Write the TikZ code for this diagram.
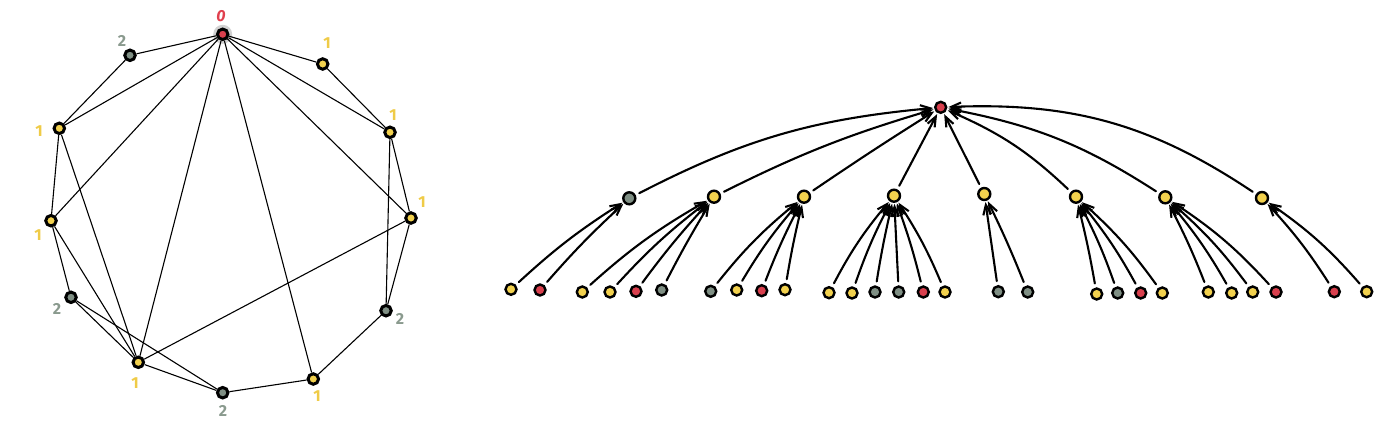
\documentclass[tikz,border=0pt]{standalone}
\usepackage{fontspec}
\setsansfont{Fira Sans}
\usetikzlibrary{arrows.meta}
\definecolor{nred}{HTML}{D9404E}
\definecolor{nyel}{HTML}{F2D14E}
\definecolor{ngry}{HTML}{7F8F84}
\definecolor{lred}{HTML}{E0404E}
\definecolor{lyel}{HTML}{EFCB47}
\definecolor{lgry}{HTML}{8A9A8E}
\begin{document}
\begin{tikzpicture}[x=1pt,y=1pt,
  gn/.style={circle, draw=black, line width=3pt, minimum size=10.5pt, inner sep=0pt},
  gedge/.style={line width=1.1pt},
  lbl/.style={font=\sffamily\bfseries\fontsize{16}{16}\selectfont, inner sep=0pt},
  tn/.style={circle, draw=black, line width=2.4pt, minimum size=11pt, inner sep=0pt},
  mn/.style={tn, minimum size=12pt},
  tedge/.style={line width=2.1pt, line cap=round, -{Straight Barb[length=10pt,width=8pt]}, shorten <=4pt, shorten >=1pt}
]
\useasboundingbox (0,0) rectangle (1400,-437);
% ---------- left graph ----------
\node[circle, fill=gray!35, minimum size=19pt, inner sep=0pt] (halo) at (222.7,-34.3) {};
\node[gn, fill=nred] (r0) at (222.7,-34.3) {};
\node[gn, fill=ngry] (A) at (130,-55.3) {};
\node[gn, fill=nyel] (B) at (322.7,-64) {};
\node[gn, fill=nyel] (C) at (59.3,-128.3) {};
\node[gn, fill=nyel] (D) at (390,-132.3) {};
\node[gn, fill=nyel] (E) at (51,-220.7) {};
\node[gn, fill=nyel] (F) at (411,-218) {};
\node[gn, fill=ngry] (J) at (71,-297.3) {};
\node[gn, fill=ngry] (I) at (386,-310.7) {};
\node[gn, fill=nyel] (G) at (138.3,-362.3) {};
\node[gn, fill=nyel] (H) at (313.3,-379) {};
\node[gn, fill=ngry] (K) at (222.7,-392.7) {};

\node[lbl, text=lred] (t0) at (221,-16) {\itshape 0};
\node[lbl, text=lgry] (tA) at (122,-41) {2};
\node[lbl, text=lyel] (tB) at (327,-43) {1};
\node[lbl, text=lyel] (tC) at (39,-131) {1};
\node[lbl, text=lyel] (tD) at (393,-115) {1};
\node[lbl, text=lyel] (tF) at (422,-202) {1};
\node[lbl, text=lyel] (tE) at (38,-235) {1};
\node[lbl, text=lgry] (tJ) at (57,-309) {2};
\node[lbl, text=lyel] (tG) at (135,-383) {1};
\node[lbl, text=lgry] (tK) at (223,-411) {2};
\node[lbl, text=lyel] (tH) at (317,-396) {1};
\node[lbl, text=lgry] (tI) at (400,-319) {2};

\foreach \a/\b in {r0/A, r0/B, r0/C, r0/D, r0/E, r0/F, r0/G, r0/H,
  A/C, B/D, C/E, C/G, D/F, D/I, E/J, E/G, F/I, F/G, J/G, J/K, G/K, K/H, H/I}
  \draw[gedge] (\a) -- (\b);

% ---------- tree ----------
\node[tn, fill=nred] (r) at (940.7,-107.3) {};
\node[mn, fill=ngry] (m1) at (629.3,-198.3) {};
\node[mn, fill=nyel] (m2) at (714,-196.7) {};
\node[mn, fill=nyel] (m3) at (804,-196.7) {};
\node[mn, fill=nyel] (m4) at (894,-195.7) {};
\node[mn, fill=nyel] (m5) at (984.3,-194) {};
\node[mn, fill=nyel] (m6) at (1076,-196.7) {};
\node[mn, fill=nyel] (m7) at (1165.3,-197.3) {};
\node[mn, fill=nyel] (m8) at (1262,-198) {};

\foreach \m/\b in {m1/11, m2/5, m3/1, m4/0, m5/0, m6/-10, m7/-11, m8/-18}
  \draw[tedge] (\m) to[bend left=\b] (r);

\foreach \n/\x/\y/\c/\p/\b in {
  a1/511/289.3/nyel/m1/5, a2/540/290/nred/m1/3,
  b1/582.3/292/nyel/m2/6, b2/610/292/nyel/m2/5, b3/636/291.3/nred/m2/3, b4/661.7/290/ngry/m2/2,
  c1/710.7/291.3/ngry/m3/6, c2/736.7/290/nyel/m3/5, c3/761.7/290.7/nred/m3/3, c4/785/289.7/nyel/m3/2,
  d1/829/292.7/nyel/m4/6, d2/852/293/nyel/m4/4, d3/875/292/ngry/m4/2, d4/898.7/292/ngry/m4/0, d5/923.3/292/nred/m4/-3, d6/945/292/nyel/m4/-5,
  e1/998.3/291.7/ngry/m5/0, e2/1027.7/292/ngry/m5/-2,
  f1/1096.7/294/nyel/m6/-2, f2/1117.7/293/ngry/m6/-4, f3/1140.7/293/nred/m6/-5, f4/1162.3/293/nyel/m6/-6,
  g1/1208.3/292/nyel/m7/-3, g2/1231.7/293/nyel/m7/-5, g3/1252.7/292/nyel/m7/-6, g4/1276/292/nred/m7/-7,
  h1/1334.3/291.7/nred/m8/-5, h2/1366.7/291.7/nyel/m8/-7}
{
  \node[tn, fill=\c] (\n) at (\x,-\y) {};
  \draw[tedge] (\n) to[bend left=\b] (\p);
}
\end{tikzpicture}
\end{document}
